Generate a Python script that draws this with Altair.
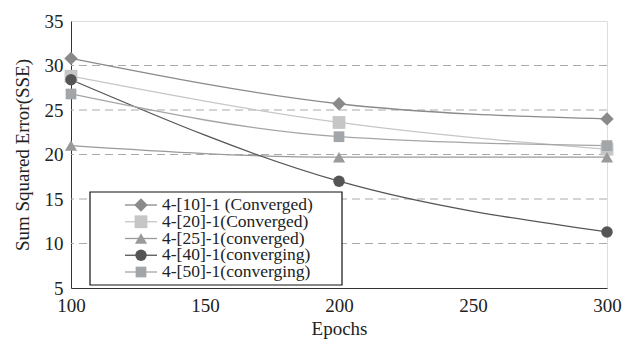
import altair as alt
import pandas as pd

epochs = [100, 200, 300]
series = ["4-[10]-1 (Converged)", "4-[20]-1(Converged)", "4-[25]-1(converged)",
          "4-[40]-1(converging)", "4-[50]-1(converging)"]
sse_10 = [30.8, 25.7, 24.0]
sse_20 = [28.8, 23.6, 20.6]
sse_25 = [21.0, 19.7, 19.7]
sse_40 = [28.4, 17.0, 11.3]
sse_50 = [26.8, 22.0, 21.0]
grid_values = [10, 15, 20, 25, 30]

colors = ["#8a8a8a", "#c6c6c6", "#9a9a9a", "#555555", "#a3a6a9"]
shapes = ["diamond", "square", "triangle-up", "circle", "square"]
sizes = [180, 115, 170, 115, 230]

rows = []
for s, vals in zip(series, [sse_10, sse_20, sse_25, sse_40, sse_50]):
    for e, v in zip(epochs, vals):
        rows.append({"series": s, "epochs": e, "sse": v})
df = pd.DataFrame(rows)
leg = pd.DataFrame({"series": series})
gdf = pd.DataFrame({"sse": grid_values})

FONT = "'Liberation Serif', 'Times New Roman', Times, serif"
color_scale = alt.Scale(domain=series, range=colors)
shape_scale = alt.Scale(domain=series, range=shapes)
size_scale = alt.Scale(domain=series, range=sizes)

x = alt.X("epochs:Q", title="Epochs",
          scale=alt.Scale(domain=[100, 300], nice=False),
          axis=alt.Axis(values=[100, 150, 200, 250, 300], grid=False, ticks=False,
                        labelFontSize=19, titleFontSize=19, labelPadding=8,
                        titlePadding=4, labelFont=FONT, titleFont=FONT,
                        titleFontWeight="normal", labelColor="#222", titleColor="#222",
                        domainColor="#333", labelFlush=False))
y = alt.Y("sse:Q", title="Sum Squared Error(SSE)",
          scale=alt.Scale(domain=[5, 35], nice=False),
          axis=alt.Axis(values=[5, 10, 15, 20, 25, 30, 35], ticks=False, grid=False,
                        labelFontSize=19, titleFontSize=19, labelPadding=8,
                        titlePadding=12, labelFont=FONT, titleFont=FONT,
                        titleFontWeight="normal", labelColor="#222", titleColor="#222",
                        domainColor="#333"))

grid = alt.Chart(gdf).mark_rule(strokeDash=[8, 5], color="#aaaaaa", strokeWidth=1.2).encode(
    y=alt.Y("sse:Q", scale=alt.Scale(domain=[5, 35], nice=False)))

base = alt.Chart(df)
lines = base.mark_line(interpolate="monotone", strokeWidth=1.3).encode(
    x=x, y=y,
    color=alt.Color("series:N", scale=color_scale, legend=None),
    order=alt.Order("epochs:Q"),
    detail="series:N",
)
points = base.mark_point(filled=True, opacity=1).encode(
    x=x, y=y,
    color=alt.Color("series:N", scale=color_scale, legend=None),
    shape=alt.Shape("series:N", scale=shape_scale, legend=None),
    size=alt.Size("series:N", scale=size_scale, legend=None),
)
main = alt.layer(grid, lines, points)

box = alt.Chart(pd.DataFrame({"a": [0]})).mark_rect(
    fill="white", fillOpacity=1, stroke="#111", strokeWidth=1.2).encode(
    x=alt.value(19), x2=alt.value(271), y=alt.value(171), y2=alt.value(264))

ly = alt.Y("series:N", sort=series, axis=None,
           scale=alt.Scale(type="point", range=[184, 251], padding=0))
lbase = alt.Chart(leg)
lrules = lbase.mark_rule(strokeWidth=1.3).encode(
    x=alt.value(54), x2=alt.value(86), y=ly,
    color=alt.Color("series:N", scale=color_scale, legend=None))
lpoints = lbase.mark_point(filled=True, opacity=1).encode(
    x=alt.value(70), y=ly,
    color=alt.Color("series:N", scale=color_scale, legend=None),
    shape=alt.Shape("series:N", scale=shape_scale, legend=None),
    size=alt.Size("series:N", scale=size_scale, legend=None))
ltext = lbase.mark_text(align="left", baseline="middle", font=FONT,
                        fontSize=17.5, color="#222").encode(
    x=alt.value(91), y=ly, text="series:N")
legend = alt.layer(box, lrules, lpoints, ltext)

chart = alt.layer(main, legend).resolve_scale(y="independent").properties(
    width=536, height=267,
    autosize=alt.AutoSizeParams(type="none"),
    padding={"left": 71, "top": 21, "right": 15, "bottom": 55},
).configure_view(stroke="#333", strokeWidth=1.2).configure(background="white")

chart.save("out.html", embed_options={"renderer": "svg", "actions": False})
